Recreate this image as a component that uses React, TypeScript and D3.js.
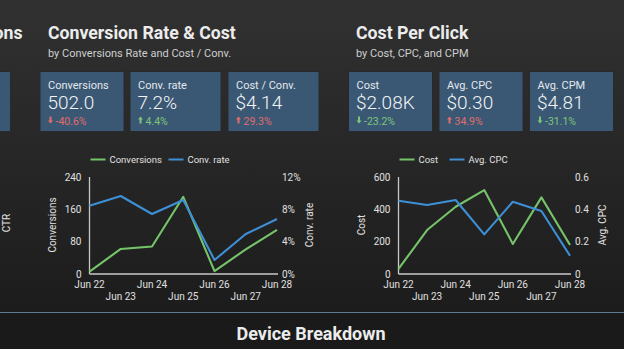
import React from 'react';
import * as d3 from 'd3';

const dates = ['Jun 22', 'Jun 23', 'Jun 24', 'Jun 25', 'Jun 26', 'Jun 27', 'Jun 28'];
const conversions = [6, 62, 68, 191, 7, 61, 109];
const convRate = [8.45, 9.65, 7.42, 9.15, 1.73, 4.95, 6.8];
const cost = [31, 272, 416, 519, 186, 474, 179];
const avgCpc = [0.453, 0.427, 0.458, 0.245, 0.447, 0.39, 0.113];

const convTicks = [0, 80, 160, 240];
const rateTicks = [0, 4, 8, 12];
const costTicks = [0, 200, 400, 600];
const cpcTicks = [0, 0.2, 0.4, 0.6];

const cardLabels1 = ['Conversions', 'Conv. rate', 'Cost / Conv.'];
const cardValues1 = ['502.0', '7.2%', '$4.14'];
const cardDeltas1 = ['-40.6%', '4.4%', '29.3%'];
const cardUp1 = [false, true, true];
const cardGood1 = [false, true, false];

const cardLabels2 = ['Cost', 'Avg. CPC', 'Avg. CPM'];
const cardValues2 = ['$2.08K', '$0.30', '$4.81'];
const cardDeltas2 = ['-23.2%', '34.9%', '-31.1%'];
const cardUp2 = [false, true, false];
const cardGood2 = [true, false, true];

const FONT = 'Roboto, "Noto Sans", sans-serif';
const GREEN = '#76c46a';
const BLUE = '#3d8fd6';
const RED = '#e06c6c';
const GOODC = '#7cc67a';
const AXIS = '#c8c8c8';
const TICK = '#e0e0e0';
const CARD = '#3a5874';

function Card({ x, w, label, value, delta, up, good }: any) {
  const col = good ? GOODC : RED;
  const y = 72;
  const h = 59;
  const ax = x + 10;
  const ay = y + 49.5;
  return (
    <g>
      <rect x={x - 1} y={y - 1} width={w + 2} height={h + 2} fill="#262a2e" />
      <rect x={x} y={y} width={w} height={h} fill={CARD} />
      <text x={x + 7.5} y={y + 16.5} fontSize={11} fill="#e4e8ec" fontFamily={FONT}>{label}</text>
      <text x={x + 7} y={y + 36.5} fontSize={19} fill="#f2f4f6" fontFamily={FONT} fontWeight={300}>{value}</text>
      <g>
        {up ? (
          <path d={`M${ax - 2.5},${ay - 2} L${ax},${ay - 5} L${ax + 2.5},${ay - 2} L${ax + 1},${ay - 2} L${ax + 1},${ay + 2} L${ax - 1},${ay + 2} L${ax - 1},${ay - 2} Z`} fill={col} />
        ) : (
          <path d={`M${ax - 2.5},${ay - 1} L${ax},${ay + 2} L${ax + 2.5},${ay - 1} L${ax + 1},${ay - 1} L${ax + 1},${ay - 5} L${ax - 1},${ay - 5} L${ax - 1},${ay - 1} Z`} fill={col} />
        )}
        <text x={x + 15} y={y + 52.5} fontSize={10.5} fill={col} fontFamily={FONT}>{delta}</text>
      </g>
    </g>
  );
}

function DualChart({ x0, x1, left, right, lTicks, rTicks, lFmt, rFmt, lMax, rMax, lName, rName, lTitle, rTitle, rTitleX, lTitleX, legendGap }: any) {
  const yTop = 177;
  const yBot = 274;
  const x = d3.scalePoint<string>().domain(dates).range([x0, x1]);
  const yl = d3.scaleLinear().domain([0, lMax]).range([yBot, yTop]);
  const yr = d3.scaleLinear().domain([0, rMax]).range([yBot, yTop]);
  const lineL = d3.line<number>().x((_, i) => x(dates[i])!).y((d) => yl(d));
  const lineR = d3.line<number>().x((_, i) => x(dates[i])!).y((d) => yr(d));
  return (
    <g fontFamily={FONT}>
      <line x1={x0 + 1} x2={x0 + 16} y1={159.5} y2={159.5} stroke={GREEN} strokeWidth={2} />
      <text x={x0 + 20} y={163} fontSize={9.5} fill={TICK}>{lName}</text>
      <line x1={x0 + legendGap} x2={x0 + legendGap + 15} y1={159.5} y2={159.5} stroke={BLUE} strokeWidth={2} />
      <text x={x0 + legendGap + 19} y={163} fontSize={9.5} fill={TICK}>{rName}</text>
      <line x1={x0} x2={x0} y1={yTop} y2={yBot} stroke={AXIS} strokeWidth={1.3} />
      <line x1={x0} x2={x1 + 1} y1={yBot} y2={yBot} stroke={AXIS} strokeWidth={1.3} />
      {lTicks.map((t: number) => (
        <text key={'l' + t} x={x0 - 8} y={yl(t) + 3.5} fontSize={10} fill={TICK} textAnchor="end">{lFmt(t)}</text>
      ))}
      {rTicks.map((t: number) => (
        <text key={'r' + t} x={x1 + 5} y={yr(t) + 3.5} fontSize={10} fill={TICK} textAnchor="start">{rFmt(t)}</text>
      ))}
      {dates.map((d, i) => (
        <text key={d} x={x(d)} y={i % 2 === 0 ? 288 : 299.5} fontSize={10} fill={TICK} textAnchor="middle">{d}</text>
      ))}
      <text transform={`translate(${lTitleX},225) rotate(-90)`} fontSize={10} fill={TICK} textAnchor="middle">{lTitle}</text>
      <text transform={`translate(${rTitleX},225) rotate(-90)`} fontSize={10} fill={TICK} textAnchor="middle">{rTitle}</text>
      <path d={lineL(left)!} fill="none" stroke={GREEN} strokeWidth={2.1} strokeLinejoin="round" />
      <path d={lineR(right)!} fill="none" stroke={BLUE} strokeWidth={2.1} strokeLinejoin="round" />
    </g>
  );
}

export default function App() {
  return (
    <svg width={624} height={349} style={{ position: 'absolute', left: 0, top: 0, display: 'block' }}>
      <defs>
        <linearGradient id="bg" x1="0" y1="0" x2="0" y2="1">
          <stop offset="0" stopColor="#313131" />
          <stop offset="1" stopColor="#1c1c1c" />
        </linearGradient>
      </defs>
      <rect x={0} y={0} width={624} height={313} fill="url(#bg)" />
      <rect x={0} y={313} width={624} height={36} fill="#1a1a1a" />
      <line x1={0} x2={624} y1={312.5} y2={312.5} stroke="#5b7b96" strokeWidth={1.2} />

      <text x={22.5} y={39.3} fontSize={17.7} fontWeight={700} fill="#ececec" fontFamily={FONT} textAnchor="end">Conversions</text>
      <rect x={-20} y={71} width={31} height={61} fill="#262a2e" />
      <rect x={-20} y={72} width={30} height={59} fill={CARD} />
      <text transform="translate(9.5,223) rotate(-90)" fontSize={10} fill={TICK} fontFamily={FONT} textAnchor="middle">CTR</text>

      <text x={48} y={39.3} fontSize={17.7} fontWeight={700} fill="#ececec" fontFamily={FONT}>Conversion Rate &amp; Cost</text>
      <text x={48} y={56.5} fontSize={11} fill="#cfcfcf" fontFamily={FONT}>by Conversions Rate and Cost / Conv.</text>
      {cardLabels1.map((l, i) => (
        <Card key={l} x={[40.5, 130.5, 228.5][i]} w={[83, 90, 90][i]} label={l} value={cardValues1[i]} delta={cardDeltas1[i]} up={cardUp1[i]} good={cardGood1[i]} />
      ))}
      <DualChart x0={89.5} x1={277} left={conversions} right={convRate} lTicks={convTicks} rTicks={rateTicks}
        lFmt={(t: number) => String(t)} rFmt={(t: number) => t + '%'} lMax={240} rMax={12}
        lName="Conversions" rName="Conv. rate" lTitle="Conversions" rTitle="Conv. rate" lTitleX={56} rTitleX={313} legendGap={79} />

      <text x={356} y={39.3} fontSize={17.7} fontWeight={700} fill="#ececec" fontFamily={FONT}>Cost Per Click</text>
      <text x={356} y={56.5} fontSize={11} fill="#cfcfcf" fontFamily={FONT}>by Cost, CPC, and CPM</text>
      {cardLabels2.map((l, i) => (
        <Card key={l} x={349 + i * 90.5} w={83} label={l} value={cardValues2[i]} delta={cardDeltas2[i]} up={cardUp2[i]} good={cardGood2[i]} />
      ))}
      <DualChart x0={398.5} x1={570} left={cost} right={avgCpc} lTicks={costTicks} rTicks={cpcTicks}
        lFmt={(t: number) => String(t)} rFmt={(t: number) => (t === 0 ? '0' : String(t))} lMax={600} rMax={0.6}
        lName="Cost" rName="Avg. CPC" lTitle="Cost" rTitle="Avg. CPC" lTitleX={365} rTitleX={606} legendGap={51} />

      <text x={311} y={339.5} fontSize={18} fontWeight={700} fill="#ececec" fontFamily={FONT} textAnchor="middle">Device Breakdown</text>
    </svg>
  );
}
